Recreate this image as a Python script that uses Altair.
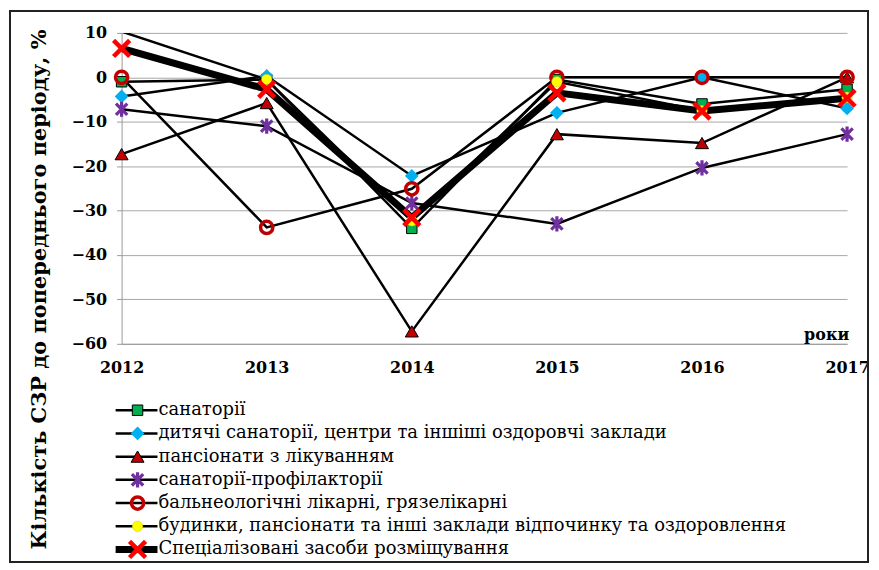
import altair as alt
import pandas as pd

years = [2012, 2013, 2014, 2015, 2016, 2017]

sanatorii = [-1.0, -0.5, -34.0, -0.5, -6.0, -2.7]
dytiachi = [-4.3, 0.3, -22.2, -8.0, 0.0, -7.0]
pansionaty = [-17.3, -5.8, -57.2, -12.8, -14.8, 0.0]
profilaktorii = [-7.2, -11.0, -28.3, -33.0, -20.4, -12.8]
balneo = [0.0, -33.8, -25.1, 0.0, 0.0, 0.0]
budynky = [10.3, -0.5, -32.3, -1.0, -7.5, -4.5]
spets = [6.5, -2.7, -31.6, -3.5, -7.6, -4.7]

series_names = [
    "санаторії",
    "дитячі санаторії, центри та іншіші  оздоровчі заклади",
    "пансіонати з лікуванням",
    "санаторії-профілакторії",
    "бальнеологічні лікарні, грязелікарні",
    "будинки, пансіонати та інші заклади відпочинку та оздоровлення",
    "Спеціалізовані  засоби розміщування",
]
series_values = [sanatorii, dytiachi, pansionaty, profilaktorii, balneo, budynky, spets]

y_ticks = [-60, -50, -40, -30, -20, -10, 0, 10]
y_max = 10

rows = []
for name, vals in zip(series_names, series_values):
    for yr, v in zip(years, vals):
        rows.append({"series": name, "year": yr, "value": v})
df = pd.DataFrame(rows)

SERIF = "DejaVu Serif"
ASTER = "M-0.75,-0.75L0.75,0.75M-0.75,0.75L0.75,-0.75M0,-1L0,1"
CROSS = "M-1,-1L1,1M-1,1L1,-1"

styles = [
    dict(shape="square", filled=True, fill="#00B050", stroke="black", strokeWidth=1, size=110),
    dict(shape="diamond", filled=True, fill="#00B0F0", strokeWidth=0, size=190),
    dict(shape="triangle-up", filled=True, fill="#C00000", stroke="black", strokeWidth=1, size=170),
    dict(shape=ASTER, filled=False, stroke="#7030A0", strokeWidth=3.2, size=230),
    dict(shape="circle", filled=False, stroke="#C00000", strokeWidth=3.5, size=150),
    dict(shape="circle", filled=True, fill="#FFFF00", stroke="#C8C800", strokeWidth=0.5, size=110),
    dict(shape=CROSS, filled=False, stroke="#FF0000", strokeWidth=4.5, size=260),
]

W, H = 728, 312
FS = 16

x_enc = alt.X(
    "year:O",
    scale=alt.Scale(type="point", padding=0),
    axis=alt.Axis(
        title="роки",
        titleFont=SERIF, titleFontSize=FS, titleFontWeight="bold", titleColor="black",
        titleX=707, titleY=-9, titleAlign="center", titleBaseline="middle",
        labelFont=SERIF, labelFontSize=FS, labelFontWeight="bold", labelColor="black",
        labelAngle=0, labelPadding=16, ticks=False, domainColor="#9a9a9a", grid=False,
    ),
)
y_enc = alt.Y(
    "value:Q",
    scale=alt.Scale(domain=[-60, 10], nice=False, zero=False),
    axis=alt.Axis(
        title="Кількість СЗР до попереднього періоду, %",
        titleFont=SERIF, titleFontSize=21, titleFontWeight="bold", titleColor="black",
        titleX=-82, titleY=257, titleAngle=270, titleAlign="center", titleBaseline="middle",
        values=y_ticks, format="d",
        labelFont=SERIF, labelFontSize=FS, labelFontWeight="bold", labelColor="black",
        labelPadding=10, tickSize=5, tickColor="#9a9a9a", domainColor="#9a9a9a",
        gridColor="#a8a8a8", gridWidth=1,
    ),
)

base = alt.Chart(df)

thin_lines = base.transform_filter(
    alt.datum.series != series_names[-1]
).mark_line(color="black", strokeWidth=2.5, clip=True).encode(
    x=x_enc, y=y_enc, detail="series:N"
)
thick_line = base.transform_filter(
    alt.datum.series == series_names[-1]
).mark_line(color="black", strokeWidth=7, clip=True).encode(x=x_enc, y=y_enc)

markers = []
for name, st in zip(series_names, styles):
    markers.append(
        base.transform_filter(alt.datum.series == name)
        .transform_filter(alt.datum.value <= y_max)
        .mark_point(opacity=1, **st)
        .encode(x=x_enc, y=y_enc)
    )

frame = alt.Chart(alt.Data(values=[{}])).mark_rect(
    fill=None, stroke="#222222", strokeWidth=2
).encode(
    x=alt.value(-112), x2=alt.value(749), y=alt.value(-22), y2=alt.value(531)
)

top = alt.layer(thin_lines, thick_line, *markers, frame).properties(width=W, height=H)

# legend panel
leg_df = pd.DataFrame({"series": series_names})
leg_base = alt.Chart(leg_df)
leg_y = alt.Y(
    "series:N", sort=series_names, axis=None,
    scale=alt.Scale(type="point", padding=0.5),
)
leg_rule = leg_base.mark_rule(color="black").encode(
    x=alt.value(-6), x2=alt.value(36), y=leg_y,
    strokeWidth=alt.condition(
        alt.datum.series == series_names[-1], alt.value(7), alt.value(2.5)
    ),
)
leg_marks = []
for name, st in zip(series_names, styles):
    leg_marks.append(
        leg_base.transform_filter(alt.datum.series == name)
        .mark_point(opacity=1, **st)
        .encode(x=alt.value(16), y=leg_y)
    )
leg_text = leg_base.mark_text(
    align="left", baseline="middle", font=SERIF, fontSize=18, color="black"
).encode(x=alt.value(37), y=leg_y, text="series:N")

legend = alt.layer(leg_rule, *leg_marks, leg_text).properties(width=W, height=163)

chart = alt.vconcat(top, legend, spacing=55, bounds="flush").properties(
    padding={"left": 1, "top": 1, "right": 1, "bottom": 1}
).configure_view(stroke=None)

chart.save("out.html", embed_options={"renderer": "svg", "actions": False})
